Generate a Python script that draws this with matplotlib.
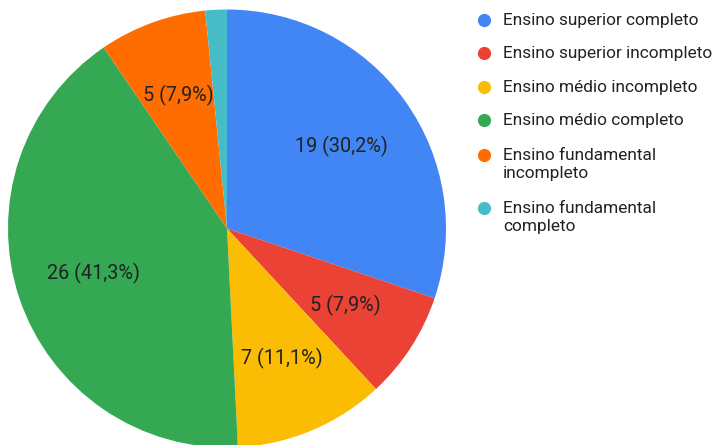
import matplotlib.pyplot as plt
import numpy as np

categories = ['Ensino superior completo', 'Ensino superior incompleto',
              'Ensino médio incompleto', 'Ensino médio completo',
              'Ensino fundamental\nincompleto', 'Ensino fundamental\ncompleto']
values = [19, 5, 7, 26, 5, 1]
colors = ['#4285F4', '#EA4335', '#FBBC04', '#34A853', '#FF6D01', '#46BDC6']

plt.rcParams['font.family'] = ['Roboto', 'DejaVu Sans']

W, H = 716, 445
fig = plt.figure(figsize=(W / 100, H / 100), dpi=100)
ax = fig.add_axes([0, 0, 1, 1])

total = sum(values)
cx, cy, r = 227, H - 228.5, 219

wedges = ax.pie(values, colors=colors, startangle=90, counterclock=False,
                center=(cx, cy), radius=r, frame=True,
                wedgeprops=dict(linewidth=0))[0]
ax.set_xlim(0, W)
ax.set_ylim(0, H)
ax.set_aspect('equal')
ax.axis('off')

# labels inside slices (small slice has none)
for w, v in zip(wedges, values):
    pct = v / total * 100
    if pct < 3:
        continue
    s = f'{v} ({pct:.1f}%)'.replace('.', ',')
    ang = np.deg2rad((w.theta1 + w.theta2) / 2)
    ax.text(cx + 0.645 * r * np.cos(ang), cy + 0.645 * r * np.sin(ang), s,
            ha='center', va='center', fontsize=14.3, color='#222222')

# legend, wrapped lines drawn one by one
row_y = [20, 53, 87, 120, 155, 208]
for c, lab, yy in zip(colors, categories, row_y):
    ax.plot(484, H - yy, 'o', color=c, markersize=9.5, markeredgewidth=0)
    for k, line in enumerate(lab.split('\n')):
        ax.text(503, H - yy - 5 - 18 * k, line, ha='left', va='baseline',
                fontsize=12.4, color='#222222')

fig.savefig('out.png', dpi=100)
